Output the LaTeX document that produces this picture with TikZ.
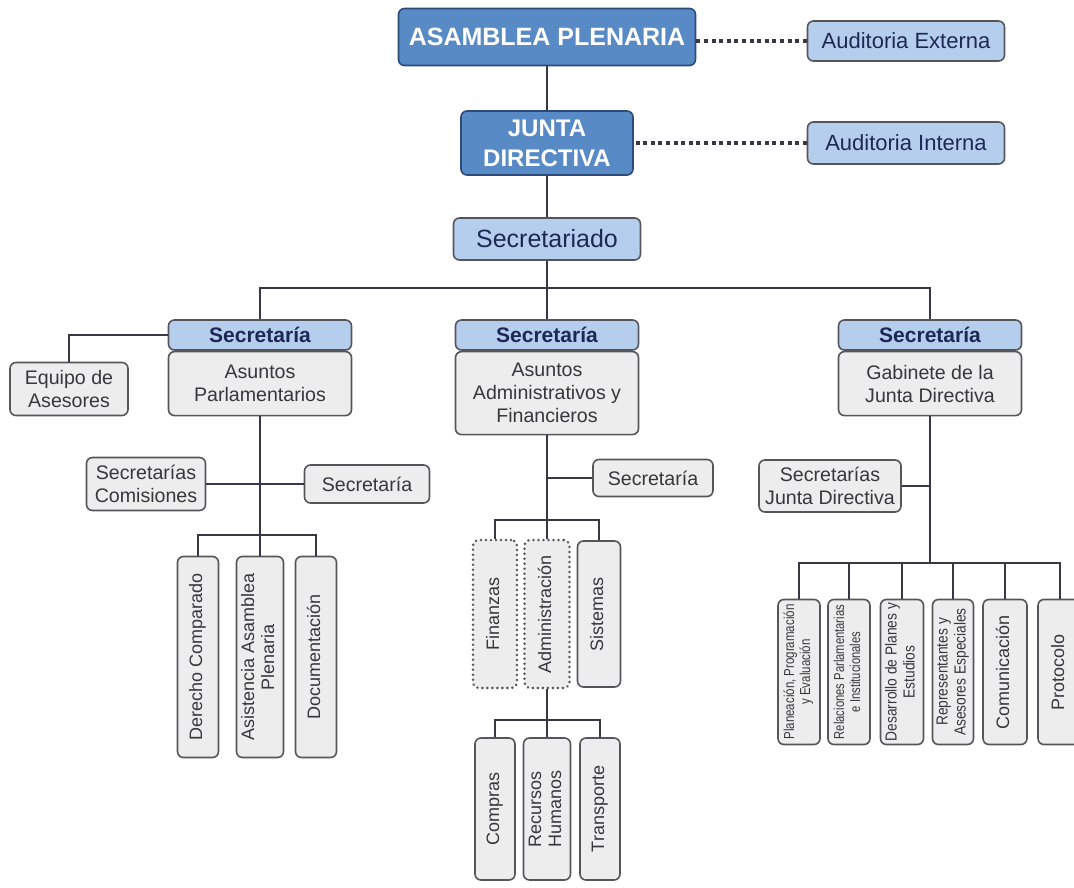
\documentclass[tikz,border=0pt]{standalone}
\usepackage{fontspec}
\setmainfont{Liberation Sans}
\usepackage{graphicx}
\usetikzlibrary{positioning,calc}
\definecolor{azul}{RGB}{88,138,198}
\definecolor{azulosc}{RGB}{45,75,120}
\definecolor{celeste}{RGB}{182,206,238}
\definecolor{grisfondo}{RGB}{237,237,237}
\definecolor{borde}{RGB}{85,85,90}
\definecolor{tinta}{RGB}{30,40,85}
\definecolor{tintagris}{RGB}{55,55,60}
\definecolor{linea}{RGB}{55,55,70}
\newcommand*{\fs}[2]{\fontsize{#1pt}{#2pt}\selectfont}
\newcommand*{\vt}[1]{\rotatebox{90}{\begin{tabular}{@{}c@{}}#1\end{tabular}}}
\newcommand*{\vtc}[2][0.86]{\rotatebox{90}{\scalebox{#1}[1]{\begin{tabular}{@{}c@{}}#2\end{tabular}}}}
\tikzset{
  px/.style 2 args={minimum width=#1*0.5pt, minimum height=#2*0.5pt},
  caja/.style={draw=borde, line width=0.8pt, rounded corners=3pt, inner sep=1pt, align=center},
  jefe/.style={caja, draw=azulosc, fill=azul, text=white, font=\fs{12.5}{14}\bfseries},
  claro/.style={caja, fill=celeste, text=tinta},
  bloque/.style={caja, fill=grisfondo, text=tintagris, font=\fs{9.8}{11.5}},
  vbox/.style={bloque, font=\fs{9}{10}},
  punteado/.style={vbox, dash pattern=on 0.1pt off 2.4pt, line width=1.3pt, line cap=round},
  conector/.style={draw=linea, line width=0.8pt},
  guion/.style={draw=linea, line width=1.6pt, dash pattern=on 2pt off 1.8pt}
}

\begin{document}
\begin{tikzpicture}[x=0.5pt,y=-0.5pt]
\useasboundingbox (0,0) rectangle (1074,887);
% cabeza
\node[jefe,px={297}{57}] (ap) at (547,37) {ASAMBLEA PLENARIA};
\node[claro,px={197}{40},font=\fs{11}{12}] (ae) at (906,41) {Auditoria Externa};
\node[jefe,px={172}{64},font=\fs{12}{15}\bfseries] (jd) at (547,143) {JUNTA\\DIRECTIVA};
\node[claro,px={197}{42},font=\fs{11}{12}] (ai) at (906,143) {Auditoria Interna};
\node[claro,px={187}{42},font=\fs{12.5}{13}] (sd) at (547,239) {Secretariado};
\draw[guion] (ae.west) -- (ae.west -| ap.east);
\draw[guion] (ai) -- (jd);
\draw[conector] (ap) -- (jd);
\draw[conector] (jd) -- (sd);
\coordinate (bus) at (547,288);

% secretarias
\node[claro,px={183}{30},font=\fs{10.5}{11}\bfseries] (s1) at (260,335) {Secretaría};
\node[claro,px={183}{30},font=\fs{10.5}{11}\bfseries] (s2) at (547,335) {Secretaría};
\node[claro,px={183}{30},font=\fs{10.5}{11}\bfseries] (s3) at (930,335) {Secretaría};
\node[bloque,px={183}{64},below=0pt of s1] (b1) {Asuntos\\Parlamentarios};
\node[bloque,px={183}{83},below=0pt of s2] (b2) {Asuntos\\Administrativos y\\Financieros};
\node[bloque,px={183}{64},below=0pt of s3] (b3) {Gabinete de la\\Junta Directiva};
\draw[conector] (sd) -- (bus);
\draw[conector] (s1.north) |- (bus) -| (s3.north);
\draw[conector] (bus) -- (s2);

% asuntos parlamentarios
\node[bloque,px={118}{53}] (eq) at (69,389) {Equipo de\\Asesores};
\node[bloque,px={119}{53}] (sc) at (146,484) {Secretarías\\Comisiones};
\node[bloque,px={125}{38}] (sl) at (367,484) {Secretaría};
\node[vbox,px={41}{201}] (der) at (198,657) {\vt{Derecho Comparado}};
\node[vbox,px={47}{201}] (asi) at (260,657) {\vt{Asistencia Asamblea\\Plenaria}};
\node[vbox,px={41}{201}] (doc) at (316,657) {\vt{Documentación}};
\coordinate (bus1) at (260,535);
\draw[conector] (s1.west) -| (eq.north);
\draw[conector] (b1) -- (asi);
\draw[conector] (sc) -- (sl);
\draw[conector] (der.north) |- (bus1) -| (doc.north);

% asuntos administrativos
\node[bloque,px={120}{37}] (sm) at (653,478) {Secretaría};
\node[punteado,px={44}{148}] (fin) at (495,614) {\vt{Finanzas}};
\node[punteado,px={45}{148}] (adm) at (547,614) {\vt{Administración}};
\node[vbox,px={43}{146}] (sis) at (599,614) {\vt{Sistemas}};
\node[vbox,px={40}{142}] (com) at (495,809) {\vt{Compras}};
\node[vbox,px={47}{142}] (rh) at (547,809) {\vt{Recursos\\Humanos}};
\node[vbox,px={40}{142}] (tr) at (600,809) {\vt{Transporte}};
\coordinate (bus2) at (547,520);
\coordinate (bus3) at (547,720);
\draw[conector] (b2) -- (adm);
\draw[conector] (sm.west) -- (sm.west -| b2.south);
\draw[conector] (fin.north) |- (bus2) -| (sis.north);
\draw[conector] (adm) -- (rh);
\draw[conector] (com.north) |- (bus3) -| (tr.north);

% gabinete
\node[bloque,px={142}{52}] (sj) at (830,486) {Secretarías\\Junta Directiva};
\node[vbox,px={42}{145},font=\fs{7.2}{8}] (r1) at (799,672) {\vtc[0.8]{Planeación, Programación\\y Evaluación}};
\node[vbox,px={42}{145},font=\fs{7.2}{8}] (r2) at (849,672) {\vtc[0.78]{Relaciones Parlamentarias\\e Institucionales}};
\node[vbox,px={43}{145},font=\fs{8}{9}] (r3) at (902,672) {\vtc{Desarrollo de Planes y\\Estudios}};
\node[vbox,px={41}{145},font=\fs{8}{9}] (r4) at (953,672) {\vtc{Representantes y\\Asesores Especiales}};
\node[vbox,px={44}{145},font=\fs{9}{10}] (r5) at (1005,672) {\vt{Comunicación}};
\node[vbox,px={44}{145},font=\fs{9}{10}] (r6) at (1060,672) {\vt{Protocolo}};
\coordinate (bus4) at (930,563);
\draw[conector] (b3) -- (bus4);
\draw[conector] (sj.east) -- (sj.east -| b3.south);
\draw[conector] (r1.north) |- (bus4) -| (r6.north);
\foreach \n in {r2,r3,r4,r5}
  \draw[conector] (\n.north) -- (\n.north |- bus4);
\end{tikzpicture}
\end{document}
